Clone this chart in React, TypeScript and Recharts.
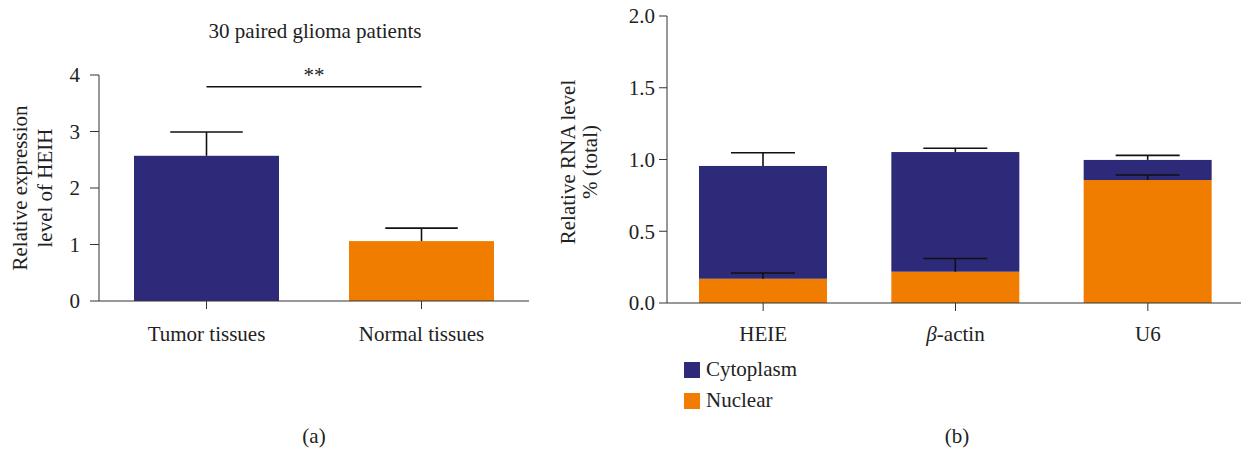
import React from "react";
import {
  Bar,
  BarChart,
  Legend,
  ReferenceLine,
  XAxis,
  YAxis,
} from "recharts";

// panel (a)
const tissues = ["Tumor tissues", "Normal tissues"];
const expression = [2.57, 1.06];
const expressionErr = [0.42, 0.23];
const tissueColors = ["#2E2A7A", "#F07C00"];

// panel (b)
const genes = ["HEIE", "β-actin", "U6"];
const nuclear = [0.169, 0.218, 0.857];
const cytoplasm = [0.786, 0.834, 0.14];
const nuclearErr = [0.04, 0.092, 0.035];
const cytoplasmErr = [0.092, 0.026, 0.032];

const NAVY = "#2E2A7A";
const ORANGE = "#F07C00";
const AXIS = "#333";
const ERR = "#111";
const FONT = "'Liberation Serif', 'Times New Roman', serif";
const FS = 21;

const dataA = tissues.map((name, i) => ({
  name,
  value: expression[i],
  err: expressionErr[i],
  color: tissueColors[i],
}));

const dataB = genes.map((name, i) => ({
  name,
  Nuclear: nuclear[i],
  Cytoplasm: cytoplasm[i],
  nucErr: nuclearErr[i],
  cytoErr: cytoplasmErr[i],
}));

function ErrLine({ cx, from, to, half }: any) {
  return (
    <g stroke={ERR} strokeWidth={1.6}>
      <line x1={cx} y1={from} x2={cx} y2={to} />
      <line x1={cx - half} y1={to} x2={cx + half} y2={to} />
    </g>
  );
}

function BarWithErr(props: any) {
  const { x, y, width, height, payload } = props;
  const ppu = height / payload.value;
  const cx = x + width / 2;
  return (
    <g>
      <rect x={x} y={y} width={width} height={height} fill={payload.color} />
      <ErrLine cx={cx} from={y} to={y - payload.err * ppu} half={width / 4} />
    </g>
  );
}

// cytoplasm sits on top of nuclear, so both error bars are drawn here
function CytoShape(props: any) {
  const { x, y, width, height, payload, fill } = props;
  const ppu = height / payload.Cytoplasm;
  const cx = x + width / 2;
  const base = y + height;
  return (
    <g>
      <rect x={x} y={y} width={width} height={height} fill={fill} />
      <ErrLine cx={cx} from={base} to={base - payload.nucErr * ppu} half={width / 4} />
      <ErrLine cx={cx} from={y} to={y - payload.cytoErr * ppu} half={width / 4} />
    </g>
  );
}

function GeneTick(props: any) {
  const { x, y, payload } = props;
  const v: string = payload.value;
  return (
    <text x={x} y={y + 28} textAnchor="middle" fontSize={FS} fill="#222" fontFamily={FONT}>
      {v.startsWith("β") ? (
        <>
          <tspan fontStyle="italic">β</tspan>
          {v.slice(1)}
        </>
      ) : (
        v
      )}
    </text>
  );
}

function LegendBox(props: any) {
  const items = props.payload || [];
  return (
    <div style={{ fontFamily: FONT, fontSize: FS, color: "#222" }}>
      {items.map((it: any) => (
        <div key={it.value} style={{ display: "flex", alignItems: "center", height: 31 }}>
          <span style={{ width: 16, height: 16, background: it.color, marginRight: 6 }} />
          {it.value}
        </div>
      ))}
    </div>
  );
}

const tickStyle = { fontSize: FS, fill: "#222", fontFamily: FONT };

export default function App() {
  return (
    <div style={{ position: "absolute", left: 0, top: 0, width: 1241, height: 451, background: "#fff", overflow: "hidden", fontFamily: FONT }}>
      <div style={{ position: "absolute", left: 0, top: 0 }}>
        <BarChart width={560} height={451} data={dataA} margin={{ top: 75, right: 31, bottom: 120, left: 39 }} barCategoryGap={35}>
          <XAxis dataKey="name" height={30} tickSize={8} tickMargin={17} stroke={AXIS} tick={tickStyle} />
          <YAxis domain={[0, 4]} ticks={[0, 1, 2, 3, 4]} width={60} tickSize={9} tickMargin={10} stroke={AXIS} tick={tickStyle} />
          <Bar dataKey="value" shape={<BarWithErr />} isAnimationActive={false} />
          <ReferenceLine
            segment={[
              { x: tissues[0], y: 3.79 },
              { x: tissues[1], y: 3.79 },
            ]}
            stroke={ERR}
            strokeWidth={1.5}
            label={{ value: "**", position: "top", fontSize: FS, fill: "#222", fontFamily: FONT }}
          />
        </BarChart>
      </div>

      <div style={{ position: "absolute", left: 540, top: 0 }}>
        <BarChart width={704} height={451} data={dataB} margin={{ top: 16, right: 0, bottom: 118, left: 67 }} barCategoryGap={32}>
          <XAxis dataKey="name" height={30} tickSize={8} stroke={AXIS} tick={<GeneTick />} />
          <YAxis
            domain={[0, 2]}
            ticks={[0, 0.5, 1, 1.5, 2]}
            tickFormatter={(v: number) => v.toFixed(1)}
            width={60}
            tickSize={8}
            tickMargin={4}
            stroke={AXIS}
            tick={tickStyle}
          />
          <Bar dataKey="Nuclear" stackId="a" fill={ORANGE} isAnimationActive={false} />
          <Bar dataKey="Cytoplasm" stackId="a" fill={NAVY} shape={<CytoShape />} isAnimationActive={false} />
          <Legend
            layout="vertical"
            align="center"
            verticalAlign="middle"
            content={<LegendBox />}
            wrapperStyle={{ left: 144, top: 354, width: 200 }}
          />
        </BarChart>
      </div>

      <svg width={1241} height={451} style={{ position: "absolute", left: 0, top: 0, pointerEvents: "none" }} fontFamily={FONT} fill="#222" fontSize={FS}>
        <text x={315} y={38} textAnchor="middle">30 paired glioma patients</text>
        <text transform="translate(27,188) rotate(-90)" textAnchor="middle">Relative expression</text>
        <text transform="translate(52,188) rotate(-90)" textAnchor="middle">level of HEIH</text>
        <text transform="translate(575,162) rotate(-90)" textAnchor="middle">Relative RNA level</text>
        <text transform="translate(597,162) rotate(-90)" textAnchor="middle">% (total)</text>
        <text x={314} y={443} textAnchor="middle">(a)</text>
        <text x={957} y={443} textAnchor="middle">(b)</text>
      </svg>
    </div>
  );
}
